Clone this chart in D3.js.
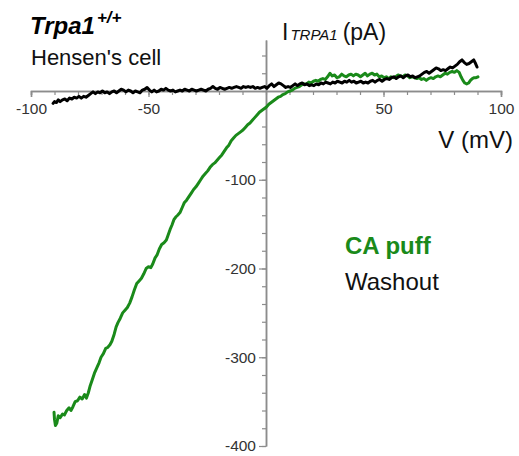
<!DOCTYPE html>
<html>
<head>
<meta charset="utf-8">
<script src="https://cdn.jsdelivr.net/npm/d3@7"></script>
<style>
  html, body { margin: 0; padding: 0; background: #fff; }
  svg { display: block; font-family: Arial, "Liberation Sans", sans-serif; }
</style>
</head>
<body>
<svg id="chart" width="519" height="456"></svg>
<script>
// I–V ramp of Hensen's cell current: CA puff vs. washout
const xMajorTicks = [-100, -50, 50, 100];
const yMajorTicks = [-400, -300, -200, -100];

// CA puff trace: [mV, pA]
const caPuffV = [-90.2,-90.0,-89.6,-89.0,-88.4,-87.6,-86.6,-85.8,-84.8,-83.8,-83.0,-82.2,-81.2,-80.2,-79.2,-78.2,-77.2,-76.4,-75.6,-74.8,-74.0,-73.0,-72.0,-71.0,-70.2,-69.2,-68.2,-67.4,-66.4,-65.6,-64.6,-63.8,-63.0,-62.0,-61.0,-60.0,-59.0,-58.0,-57.0,-56.0,-55.0,-54.0,-53.0,-52.0,-51.0,-50.0,-49.0,-48.2,-47.2,-46.4,-45.4,-44.4,-43.4,-42.4,-41.6,-40.8,-40.0,-39.2,-38.4,-37.6,-36.6,-35.6,-34.8,-33.8,-32.8,-31.8,-30.8,-29.8,-28.8,-27.8,-26.8,-25.8,-24.8,-23.8,-22.8,-21.8,-20.8,-19.8,-18.8,-17.8,-16.8,-15.8,-14.8,-13.8,-12.8,-11.8,-10.8,-9.8,-8.8,-7.8,-6.8,-5.8,-4.8,-3.8,-2.8,-1.8,-0.8,0.2,1.2,2.2,3.2,4.2,5.2,6.2,7.2,8.2,9.2,10.2,11.2,12.2,13.2,14.2,15.2,16.2,17.2,18.2,19.2,20.2,21.2,22.2,23.2,24.2,25.2,26.2,27.2,28.2,29.2,30.2,31.2,32.2,33.2,34.2,35.2,36.2,37.2,38.2,39.2,40.2,41.2,42.2,43.2,44.2,45.2,46.2,47.2,48.2,49.2,50.2,51.2,52.2,53.2,54.2,55.2,56.2,57.2,58.2,59.2,60.2,61.2,62.2,63.2,64.2,65.2,66.2,67.2,68.2,69.2,70.2,71.2,72.2,73.2,74.2,75.2,76.2,77.2,78.2,79.2,80.2,81.2,82.2,83.0,83.8,84.6,85.4,86.2,87.0,87.8,88.6,89.4,90.2];
const caPuffI = [-362,-370,-377,-374,-366,-368,-364,-365,-360,-357,-360,-356,-350,-349,-345,-347,-342,-346,-340,-332,-326,-318,-312,-306,-300,-296,-290,-289,-286,-282,-274,-266,-261,-256,-250,-247,-244,-239,-232,-224,-217,-214,-211,-206,-200,-198,-199,-195,-188,-185,-178,-173,-171,-168,-162,-156,-151,-145,-142,-140,-137,-131,-126,-123,-119,-115,-111,-108,-104,-100,-96,-93,-90,-86,-83,-81,-78,-75,-72,-68,-64,-61,-56,-53,-50,-48,-46,-44,-41,-38,-36,-33,-30,-27,-24,-22,-20,-18,-15,-13,-11,-9,-7,-6,-4,-3,-1,0,1,3,4,5,7,8,8,10,9,11,12,11,13,14,13,16,20,17,18,15,16,19,17,16,18,19,17,19,18,16,18,20,17,19,20,18,19,16,17,15,16,14,16,15,16,18,17,16,18,17,15,16,15,14,15,13,14,12,14,15,14,16,17,16,18,20,19,21,22,21,23,21,16,12,9,8,9,12,14,15,15,16];

// Washout trace: [mV, pA]
const washoutV = [-90.6,-90.0,-89.2,-88.4,-87.6,-86.6,-85.6,-84.6,-83.6,-82.6,-81.6,-80.6,-79.6,-78.6,-77.6,-76.6,-75.6,-74.6,-73.6,-72.6,-71.6,-70.6,-69.6,-68.6,-67.6,-66.6,-65.6,-64.6,-63.6,-62.6,-61.6,-60.6,-59.6,-58.6,-57.6,-56.6,-55.6,-54.6,-53.6,-52.6,-51.6,-50.6,-49.6,-48.6,-47.6,-46.6,-45.6,-44.6,-43.6,-42.6,-41.6,-40.6,-39.6,-38.6,-37.6,-36.6,-35.6,-34.6,-33.6,-32.6,-31.6,-30.6,-29.6,-28.6,-27.6,-26.6,-25.6,-24.6,-23.6,-22.6,-21.6,-20.6,-19.6,-18.6,-17.6,-16.6,-15.6,-14.6,-13.6,-12.6,-11.6,-10.6,-9.6,-8.6,-7.6,-6.6,-5.6,-4.6,-3.6,-2.6,-1.6,-0.6,0.4,1.4,2.4,3.4,4.4,5.4,6.4,7.4,8.4,9.4,10.4,11.4,12.4,13.4,14.4,15.4,16.4,17.4,18.4,19.4,20.4,21.4,22.4,23.4,24.4,25.4,26.4,27.4,28.4,29.4,30.4,31.4,32.4,33.4,34.4,35.4,36.4,37.4,38.4,39.4,40.4,41.4,42.4,43.4,44.4,45.4,46.4,47.4,48.4,49.4,50.4,51.4,52.4,53.4,54.4,55.4,56.4,57.4,58.4,59.4,60.4,61.4,62.4,63.4,64.4,65.4,66.4,67.4,68.4,69.4,70.4,71.4,72.4,73.4,74.4,75.4,76.4,77.4,78.4,79.4,80.4,81.4,82.4,83.4,84.4,85.4,86.4,87.4,88.4,89.0,89.8];
const washoutI = [-14,-12,-13,-10,-12,-10,-9,-11,-8,-9,-7,-8,-6,-8,-6,-7,-5,-3,-1,-3,-1,-2,0,-2,-1,-3,-1,0,-2,0,2,1,-1,1,0,-2,0,-1,-2,1,2,4,1,-1,1,-1,0,2,1,3,1,0,1,-1,0,1,0,2,1,0,2,1,0,1,2,1,0,2,3,5,3,2,4,3,2,3,4,3,4,5,4,3,5,4,5,4,5,3,4,3,4,5,3,6,8,5,7,9,8,6,4,5,4,6,8,6,8,9,7,8,6,7,6,8,7,9,8,10,9,8,10,9,11,10,9,11,10,12,10,11,9,10,11,9,10,9,11,12,10,12,13,11,13,14,13,15,16,14,16,17,15,17,18,16,17,15,16,17,19,21,22,20,22,24,26,25,23,24,23,25,27,26,28,30,33,35,32,30,31,33,35,32,27];

const green = "#1a8a1a";
const axisColor = "#8c8c8c";
const labelColor = "#333";
const plainInt = d => String(d);

const svg = d3.select("#chart");

const x = d3.scaleLinear().domain([-100, 100]).range([31, 501]);
const y = d3.scaleLinear().domain([-400, 0]).range([446, 91]);
const yTop = 57.5;

// x axis through I = 0
const gx = svg.append("g").attr("transform", `translate(0,${y(0)})`);
gx.call(d3.axisBottom(x).tickValues(d3.range(-100, 101, 10)).tickSize(4).tickFormat(""));
gx.call(g => g.append("g").call(d3.axisBottom(x).tickValues(xMajorTicks).tickSize(6).tickPadding(6).tickFormat(plainInt)));
gx.selectAll(".domain").attr("stroke", axisColor).attr("stroke-width", 1.5);
gx.selectAll("line").attr("stroke", axisColor).attr("stroke-width", 1.2);
gx.selectAll("text").attr("fill", labelColor).attr("font-size", 15.5)
  .attr("font-family", "Arial, 'Liberation Sans', sans-serif");

// y axis through V = 0
const yAxisScale = d3.scaleLinear().domain([-400, yTop]).range([y(-400), y(yTop)]);
const gy = svg.append("g").attr("transform", `translate(${x(0)},0)`);
gy.call(d3.axisLeft(yAxisScale).tickValues(d3.range(-400, 41, 20)).tickSize(4).tickSizeOuter(0).tickFormat(""));
gy.call(g => g.append("g").call(d3.axisLeft(yAxisScale).tickValues(yMajorTicks).tickSize(7).tickSizeOuter(0).tickPadding(3).tickFormat(plainInt)));
gy.selectAll(".domain").attr("stroke", axisColor).attr("stroke-width", 1.5);
gy.selectAll("line").attr("stroke", axisColor).attr("stroke-width", 1.2);
gy.selectAll("text").attr("fill", labelColor).attr("font-size", 15.5)
  .attr("font-family", "Arial, 'Liberation Sans', sans-serif");

// traces
const line = d3.line().x(d => x(d[0])).y(d => y(d[1]));
const caPuff = d3.zip(caPuffV, caPuffI);
const washout = d3.zip(washoutV, washoutI);

svg.append("path").datum(caPuff).attr("d", line)
  .attr("fill", "none").attr("stroke", green).attr("stroke-width", 3)
  .attr("stroke-linejoin", "round").attr("stroke-linecap", "round");
svg.append("path").datum(washout).attr("d", line)
  .attr("fill", "none").attr("stroke", "#000").attr("stroke-width", 3)
  .attr("stroke-linejoin", "round").attr("stroke-linecap", "round");

// axis titles
const yTitle = svg.append("text").attr("x", 282).attr("y", 40).attr("fill", "#111").attr("font-size", 23);
yTitle.append("tspan").text("I");
yTitle.append("tspan").attr("font-size", 15).attr("font-style", "italic").attr("dx", 2).text("TRPA1");
yTitle.append("tspan").attr("dx", 5).text("(pA)");

svg.append("text").attr("x", 513).attr("y", 148).attr("text-anchor", "end")
  .attr("fill", "#111").attr("font-size", 24).text("V (mV)");

// genotype / cell annotation
const geno = svg.append("text").attr("x", 30).attr("y", 34).attr("fill", "#000")
  .attr("font-size", 24).attr("font-weight", "bold").attr("font-style", "italic");
geno.append("tspan").text("Trpa1");
geno.append("tspan").attr("font-size", 17).attr("dx", 2).attr("dy", -11).text("+/+");

svg.append("text").attr("x", 31).attr("y", 65).attr("fill", "#111")
  .attr("font-size", 22).text("Hensen's cell");

// legend
svg.append("text").attr("x", 345).attr("y", 254).attr("fill", green)
  .attr("font-size", 24).attr("font-weight", "bold").text("CA puff");
svg.append("text").attr("x", 345).attr("y", 290).attr("fill", "#111")
  .attr("font-size", 24).text("Washout");
</script>
</body>
</html>
